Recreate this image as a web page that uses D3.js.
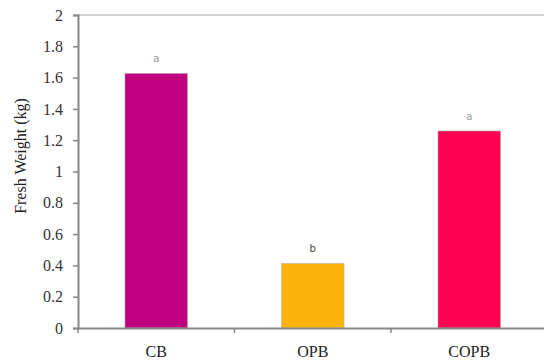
<!DOCTYPE html>
<html><head><meta charset="utf-8">
<script src="https://cdn.jsdelivr.net/npm/d3@7"></script>
<style>body{margin:0;background:#fff}svg{display:block}</style>
</head><body>
<script>
const categories = ["CB", "OPB", "COPB"];
const values = [1.627, 0.413, 1.259];
const letters = ["a", "b", "a"];
const colors = ["#C1007F", "#FBB30C", "#FF0052"];
const yTicks = [0, 0.2, 0.4, 0.6, 0.8, 1, 1.2, 1.4, 1.6, 1.8, 2];
const yTickLabels = ["0", "0.2", "0.4", "0.6", "0.8", "1", "1.2", "1.4", "1.6", "1.8", "2"];

(function () {
const W = 544, H = 361;
const mLeft = 78, mRight = 547.5, mTop = 15, mBottom = 328;
const svg = d3.select("body").append("svg").attr("width", W).attr("height", H);

const x = d3.scaleBand().domain(categories).range([mLeft, mRight]).paddingInner(0).paddingOuter(0);
const y = d3.scaleLinear().domain([0, 2]).range([mBottom, mTop]);
const barW = x.bandwidth() * 0.4;

// top border
svg.append("line").attr("x1", mLeft).attr("x2", W).attr("y1", mTop).attr("y2", mTop)
  .attr("stroke", "#c0c0c0").attr("stroke-width", 1.5);

// bars
svg.selectAll("rect.bar").data(categories).join("rect")
  .attr("x", d => x(d) + (x.bandwidth() - barW) / 2)
  .attr("y", (d, i) => y(values[i]))
  .attr("width", barW)
  .attr("height", (d, i) => y(0) - y(values[i]))
  .attr("fill", (d, i) => colors[i])
  .attr("stroke", "#b8b8b8").attr("stroke-width", 0.6);

// letters
svg.selectAll("text.lt").data(categories).join("text")
  .attr("x", d => x(d) + x.bandwidth() / 2)
  .attr("y", (d, i) => y(values[i]) - 11)
  .attr("text-anchor", "middle")
  .attr("font-family", "DejaVu Sans, sans-serif").attr("font-size", 10)
  .attr("fill", (d, i) => letters[i] === "b" ? "#444" : "#999")
  .text((d, i) => letters[i]);

// y axis
const yAxis = d3.axisLeft(y).tickValues(yTicks).tickFormat((d, i) => yTickLabels[i]).tickSizeOuter(0).tickSize(5).tickPadding(10);
const gy = svg.append("g").attr("transform", `translate(${mLeft},0)`).call(yAxis);
gy.select(".domain").attr("stroke", "#888").attr("stroke-width", 2);
gy.selectAll(".tick line").attr("stroke", "#888").attr("stroke-width", 1.5);
gy.selectAll(".tick text").attr("font-family", "Liberation Serif, Times New Roman, serif").attr("font-size", 16).attr("fill", "#333");

// x axis
const xAxis = d3.axisBottom(x).tickSize(0).tickPadding(18).tickSizeOuter(0);
const gx = svg.append("g").attr("transform", `translate(0,${mBottom})`).call(xAxis);
gx.select(".domain").attr("stroke", "#888").attr("stroke-width", 2);
gx.selectAll(".tick text").attr("font-family", "Liberation Serif, Times New Roman, serif").attr("font-size", 16).attr("fill", "#222");
// category boundary ticks
const bounds = [mLeft, x(categories[1]), x(categories[2])];
svg.selectAll("line.bt").data(bounds).join("line")
  .attr("x1", d => d).attr("x2", d => d).attr("y1", mBottom).attr("y2", mBottom + 5)
  .attr("stroke", "#888").attr("stroke-width", 1.5);

// y title
svg.append("text").attr("transform", `translate(26,156) rotate(-90)`)
  .attr("text-anchor", "middle")
  .attr("font-family", "Liberation Serif, Times New Roman, serif").attr("font-size", 16).attr("fill", "#222")
  .text("Fresh Weight (kg)");
})();
</script>
</body></html>
